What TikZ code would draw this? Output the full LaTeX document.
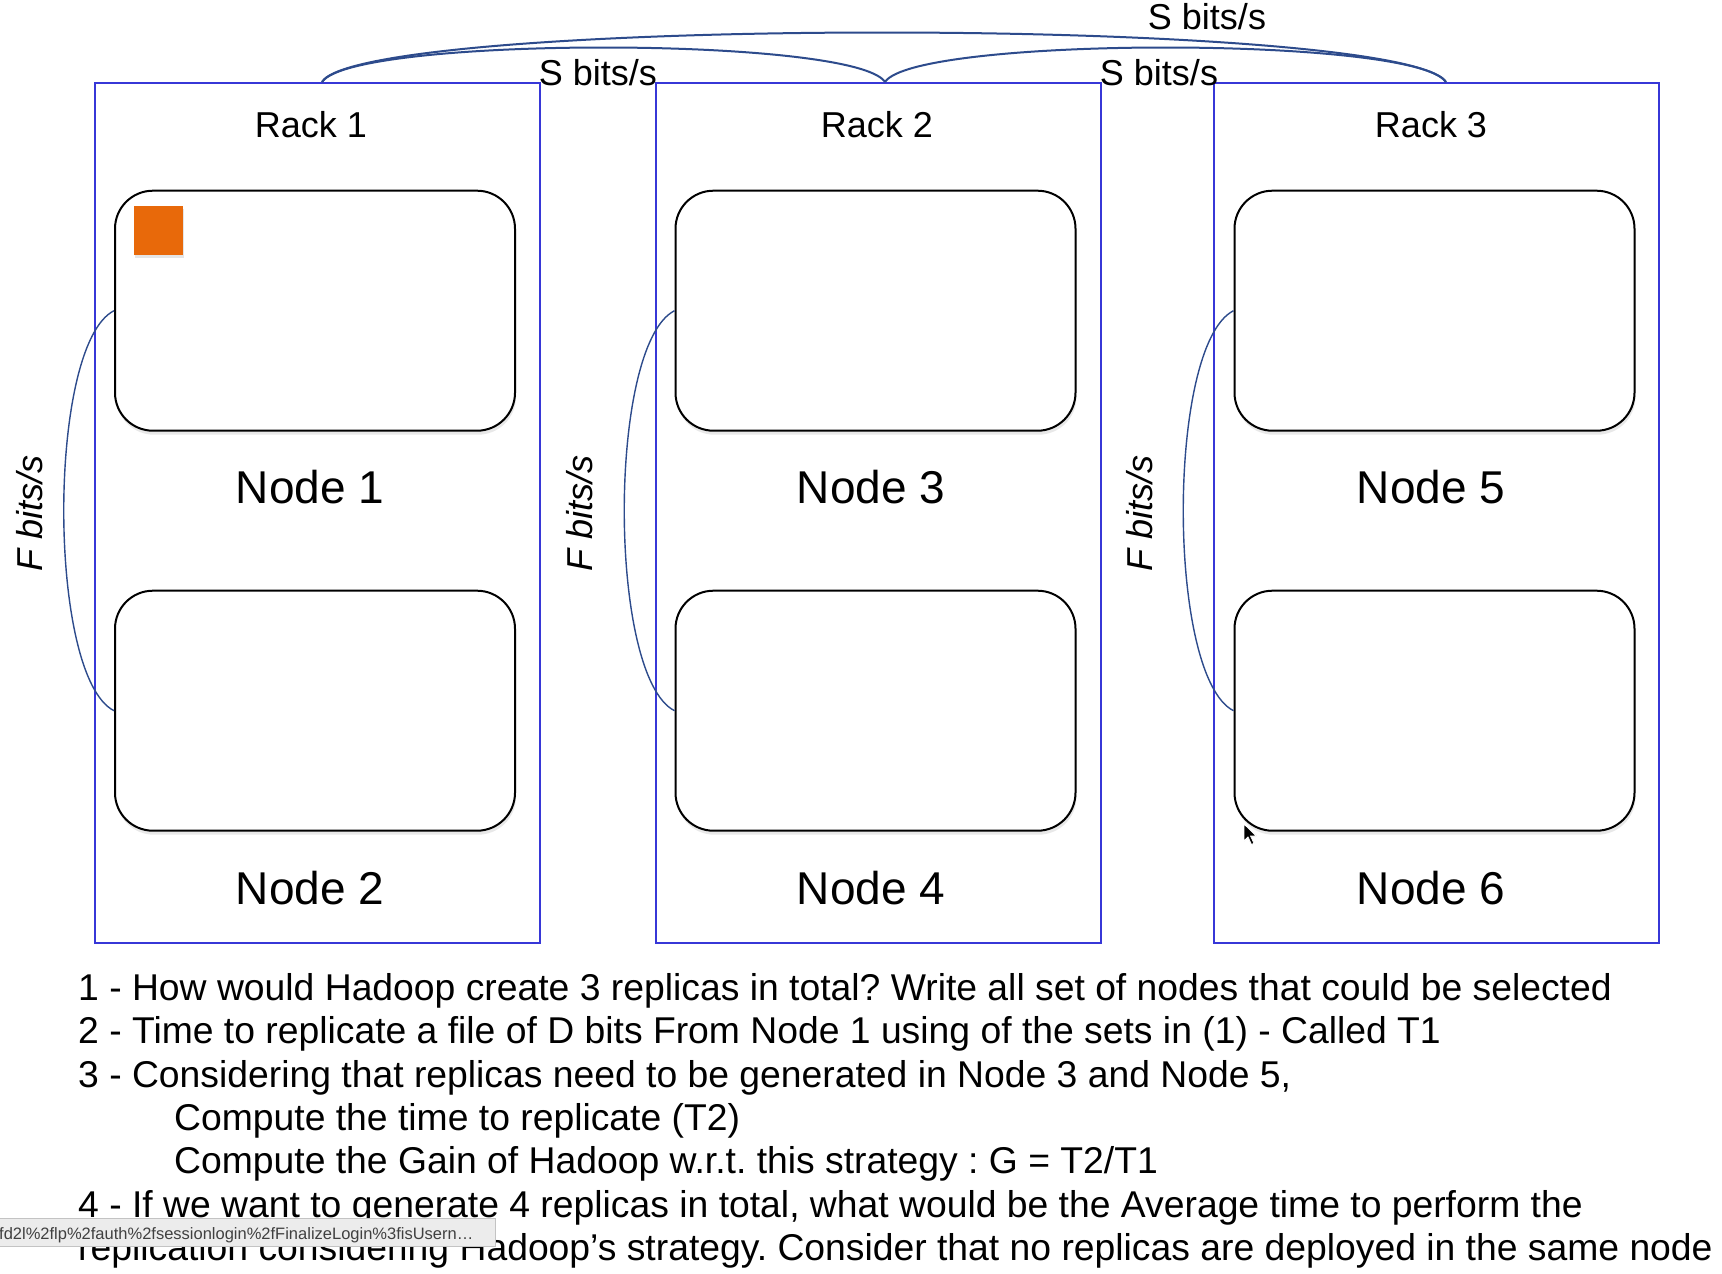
\documentclass[tikz,border=0pt]{standalone}
\usepackage{fontspec}
\setmainfont{Liberation Sans}
\usetikzlibrary{calc,shadows}
\definecolor{rackblue}{RGB}{55,55,215}
\definecolor{linkblue}{RGB}{45,75,140}
\definecolor{blockorange}{RGB}{232,105,10}
\definecolor{barfill}{RGB}{236,236,236}
\definecolor{barline}{RGB}{195,195,195}
\frenchspacing
\begin{document}
\begin{tikzpicture}[x=1pt,y=-1pt,
  rackbox/.style={draw=rackblue, line width=2pt, minimum width=445pt, minimum height=860pt, inner sep=0pt},
  nodebox/.style={draw=black, line width=2pt, rounded corners=38pt, minimum width=400pt, minimum height=240pt, fill=white,
     drop shadow={shadow xshift=1pt, shadow yshift=-4pt, opacity=0.18}},
  block/.style={fill=blockorange, minimum size=49pt, inner sep=0pt,
     drop shadow={shadow xshift=1pt, shadow yshift=-3pt, opacity=0.2}},
  ratelabel/.style={font=\fontsize{36}{40}\selectfont, inner sep=0pt, anchor=base},
  flabel/.style={font=\fontsize{36}{40}\selectfont\itshape, inner sep=0pt, rotate=90, anchor=center},
  racklabel/.style={font=\fontsize{36}{40}\selectfont, inner sep=0pt, anchor=base},
  nodelabel/.style={font=\fontsize{46}{50}\selectfont, inner sep=0pt, anchor=base},
  qtext/.style={font=\fontsize{37.3}{40}\selectfont, inner sep=0pt, anchor=base west},
  slink/.style={draw=linkblue, line width=2pt},
  flink/.style={draw=linkblue, line width=1.4pt},
  statusbar/.style={fill=barfill, draw=barline, line width=1pt},
  statustext/.style={font=\fontsize{16.5}{18}\selectfont, text=black!75, inner sep=0pt, anchor=base west}
]
\useasboundingbox (0,0) rectangle (1722,1274);
\fill[white] (0,0) rectangle (1722,1274);

% racks
\node[rackbox] (r1) at (317.5,513) {};
\node[rackbox] (r2) at (878,513) {};
\node[rackbox] (r3) at (1436.5,513) {};

\node[racklabel] (rl1) at (311,137.3) {Rack 1};
\node[racklabel] (rl2) at (877,137.3) {Rack 2};
\node[racklabel] (rl3) at (1431,137.3) {Rack 3};

% node boxes
\node[nodebox] (n1) at (315,310.7) {};
\node[nodebox] (n2) at (315,710.7) {};
\node[nodebox] (n3) at (875.5,310.7) {};
\node[nodebox] (n4) at (875.5,710.7) {};
\node[nodebox] (n5) at (1434.5,310.7) {};
\node[nodebox] (n6) at (1434.5,710.7) {};

\node[nodelabel] (nl1) at (310,503.3) {Node 1};
\node[nodelabel] (nl2) at (310,904) {Node 2};
\node[nodelabel] (nl3) at (871,503.3) {Node 3};
\node[nodelabel] (nl4) at (871,904) {Node 4};
\node[nodelabel] (nl5) at (1431,503.3) {Node 5};
\node[nodelabel] (nl6) at (1431,904) {Node 6};

% data block
\node[block] (blk) at (158.3,230.5) {};

% inter-rack link anchors on the rack tops
\coordinate (a1) at ([xshift=4.5pt]r1.north);
\coordinate (a2) at ([xshift=7pt]r2.north);
\coordinate (a3) at ([xshift=9.5pt]r3.north);

\draw[slink] (a1) .. controls ($(a1)+(30,-46)$) and ($(a2)+(-30,-46)$) .. (a2);
\draw[slink] (a2) .. controls ($(a2)+(30,-46)$) and ($(a3)+(-30,-46)$) .. (a3);
\draw[slink] (a1) .. controls ($(a1)+(40,-66)$) and ($(a3)+(-45,-66)$) .. (a3);

\node[ratelabel] (s12) at (598,85) {S bits/s};
\node[ratelabel] (s23) at (1159,85) {S bits/s};
\node[ratelabel] (s13) at (1207,29) {S bits/s};

% intra-rack links
\draw[flink] (n1.west) .. controls ($(n1.west)+(-67,34)$) and ($(n2.west)+(-67,-34)$) .. (n2.west);
\draw[flink] (n3.west) .. controls ($(n3.west)+(-67,34)$) and ($(n4.west)+(-67,-34)$) .. (n4.west);
\draw[flink] (n5.west) .. controls ($(n5.west)+(-67,34)$) and ($(n6.west)+(-67,-34)$) .. (n6.west);

\node[flabel] (f1) at (30,513) {F bits/s};
\node[flabel] (f2) at (580,513) {F bits/s};
\node[flabel] (f3) at (1140,513) {F bits/s};

% questions
\node[qtext] (q1) at (78,1000.5) {1 - How would Hadoop create 3 replicas in total? Write all set of nodes that could be selected};
\node[qtext] (q2) at (78,1043.8) {2 - Time to replicate a file of D bits From Node 1 using of the sets in (1) - Called T1};
\node[qtext] (q3) at (78,1087.2) {3 - Considering that replicas need to be generated in Node 3 and Node 5,};
\node[qtext] (q4) at (174,1130.5) {Compute the time to replicate (T2)};
\node[qtext] (q5) at (174,1173.9) {Compute the Gain of Hadoop w.r.t. this strategy : G = T2/T1};
\node[qtext] (q6) at (78,1217.2) {4 - If we want to generate 4 replicas in total, what would be the Average time to perform the};
\node[qtext] (q7) at (78,1260.5) {replication considering Hadoop’s strategy. Consider that no replicas are deployed in the same node};

% browser status bar overlay
\draw[statusbar] (-2,1218.3) rectangle (495.7,1246);
\node[statustext] (url) at (-1,1239.5) {fd2l\%2flp\%2fauth\%2fsessionlogin\%2fFinalizeLogin\%3fisUsern…};

% mouse pointer
\filldraw[fill=black, draw=white, line width=0.8pt]
  (1244,824) -- ++(0,17) -- ++(4,-4) -- ++(3.5,7.5) -- ++(2.5,-1.2) -- ++(-3.4,-7.2) -- ++(5.8,0) -- cycle;
\end{tikzpicture}
\end{document}
